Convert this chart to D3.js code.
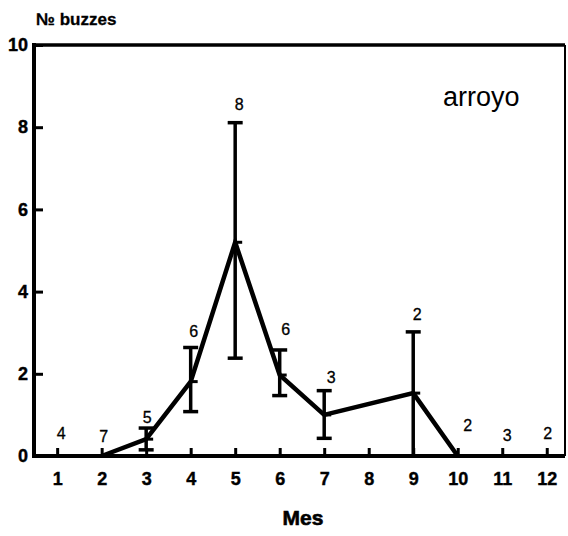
<!DOCTYPE html>
<html>
<head>
<meta charset="utf-8">
<script src="https://cdn.jsdelivr.net/npm/d3@7"></script>
<style>
  html, body { margin: 0; padding: 0; background: #fff; }
  svg { display: block; }
  text { font-family: "Liberation Sans", Arial, Helvetica, sans-serif; fill: #000; }
</style>
</head>
<body>
<svg id="chart" width="568" height="536"></svg>
<script>
// Monthly buzz counts (mean with range) recorded at the stream site
const months = [1, 2, 3, 4, 5, 6, 7, 8, 9, 10, 11, 12];
const sampleSizes = [4, 7, 5, 6, 8, 6, 3, null, 2, 2, 3, 2];
const meanBuzzes = [null, 0, 0.41, 1.81, 5.2, 1.97, 1.0, null, 1.53, 0, null, null];
const lowerBuzzes = [null, null, 0.15, 1.08, 2.38, 1.47, 0.43, null, 0, null, null, null];
const upperBuzzes = [null, null, 0.68, 2.64, 8.11, 2.58, 1.59, null, 3.02, null, null, null];
const yTicks = [0, 2, 4, 6, 8, 10];
const xTicks = months;
const yTitle = "\u2116 buzzes";
const xTitle = "Mes";
const siteLabel = "arroyo";

// Small placement tweaks for the sample-size labels (dx, dy in px)
const countLabelShift = [[4, -23], [2, -20], [1, -11], [3, -16], [4, -18], [6, -20],
                         [7, -13], [0, 0], [4, -17], [10, -31], [5, -21], [1, -23]];

const svg = d3.select("#chart");
const plotLeft = 34, plotRight = 565, plotTop = 45, plotBottom = 456;

const x = d3.scaleLinear().domain([0.48, 12.41]).range([plotLeft, plotRight]);
const y = d3.scaleLinear().domain([0, 10]).range([plotBottom, plotTop]);

// Frame
svg.append("line").attr("x1", plotLeft).attr("x2", plotLeft).attr("y1", plotTop - 2).attr("y2", plotBottom + 2)
  .attr("stroke", "#000").attr("stroke-width", 4);
svg.append("line").attr("x1", plotLeft - 2).attr("x2", plotRight).attr("y1", plotBottom).attr("y2", plotBottom)
  .attr("stroke", "#000").attr("stroke-width", 4);
svg.append("line").attr("x1", plotLeft - 2).attr("x2", plotRight).attr("y1", plotTop).attr("y2", plotTop)
  .attr("stroke", "#000").attr("stroke-width", 3.5);
svg.append("line").attr("x1", plotRight).attr("x2", plotRight).attr("y1", plotTop).attr("y2", plotBottom)
  .attr("stroke", "#000").attr("stroke-width", 2);

// Y axis (ticks pointing into the plot)
const yAxis = svg.append("g").attr("transform", `translate(${plotLeft},0)`)
  .call(d3.axisLeft(y).tickValues(yTicks).tickSize(-9).tickPadding(6).tickFormat(d3.format("d")));
yAxis.select(".domain").remove();
yAxis.selectAll(".tick line").attr("stroke", "#000").attr("stroke-width", 3);
yAxis.selectAll(".tick text").attr("font-size", 18).attr("font-weight", "bold")
  .attr("font-family", "Liberation Sans, Arial, sans-serif")
  .attr("stroke", "#000").attr("stroke-width", 0.4);

// X axis
const xAxis = svg.append("g").attr("transform", `translate(0,${plotBottom})`)
  .call(d3.axisBottom(x).tickValues(xTicks).tickSize(-8).tickPadding(16).tickFormat(d3.format("d")));
xAxis.select(".domain").remove();
xAxis.selectAll(".tick line").attr("stroke", "#000").attr("stroke-width", 3);
xAxis.selectAll(".tick text").attr("font-size", 18).attr("font-weight", "bold")
  .attr("font-family", "Liberation Sans, Arial, sans-serif")
  .attr("stroke", "#000").attr("stroke-width", 0.4);

// Titles
svg.append("text").attr("x", 36).attr("y", 25).attr("font-size", 17).attr("font-weight", "bold")
  .attr("stroke", "#000").attr("stroke-width", 0.3).text(yTitle);
svg.append("text").attr("x", 303).attr("y", 525).attr("text-anchor", "middle")
  .attr("font-size", 21).attr("font-weight", "bold")
  .attr("stroke", "#000").attr("stroke-width", 0.6).text(xTitle);
svg.append("text").attr("x", 443).attr("y", 106).attr("font-size", 27).text(siteLabel);

const rows = months.map((m, i) => ({
  month: m, n: sampleSizes[i], mean: meanBuzzes[i],
  lo: lowerBuzzes[i], hi: upperBuzzes[i], shift: countLabelShift[i]
}));

// Error bars
const bars = rows.filter(d => d.hi != null);
const capW = 7.5;
const eb = svg.append("g").attr("stroke", "#000");
eb.selectAll("line.stem").data(bars).join("line").attr("class", "stem")
  .attr("x1", d => x(d.month)).attr("x2", d => x(d.month))
  .attr("y1", d => y(d.lo)).attr("y2", d => y(d.hi)).attr("stroke-width", 3.5);
eb.selectAll("line.capTop").data(bars).join("line").attr("class", "capTop")
  .attr("x1", d => x(d.month) - capW).attr("x2", d => x(d.month) + capW)
  .attr("y1", d => y(d.hi)).attr("y2", d => y(d.hi)).attr("stroke-width", 3.5);
eb.selectAll("line.capBot").data(bars).join("line").attr("class", "capBot")
  .attr("x1", d => x(d.month) - capW).attr("x2", d => x(d.month) + capW)
  .attr("y1", d => y(d.lo)).attr("y2", d => y(d.lo)).attr("stroke-width", 3.5);
eb.selectAll("line.meanMark").data(bars).join("line").attr("class", "meanMark")
  .attr("x1", d => x(d.month)).attr("x2", d => x(d.month) + 7)
  .attr("y1", d => y(d.mean)).attr("y2", d => y(d.mean)).attr("stroke-width", 3);

// Mean line
const lineRows = rows.filter(d => d.mean != null);
svg.append("path").datum(lineRows)
  .attr("fill", "none").attr("stroke", "#000").attr("stroke-width", 4.5)
  .attr("stroke-linejoin", "miter")
  .attr("d", d3.line().x(d => x(d.month)).y(d => y(d.mean)));

// Sample-size labels
svg.append("g").selectAll("text").data(rows.filter(d => d.n != null)).join("text")
  .attr("x", d => x(d.month) + d.shift[0])
  .attr("y", d => y(d.hi != null ? d.hi : 0) + d.shift[1])
  .attr("text-anchor", "middle").attr("dominant-baseline", "central")
  .attr("font-size", 16).attr("stroke", "#000").attr("stroke-width", 0.3)
  .text(d => d.n);
</script>
</body>
</html>
